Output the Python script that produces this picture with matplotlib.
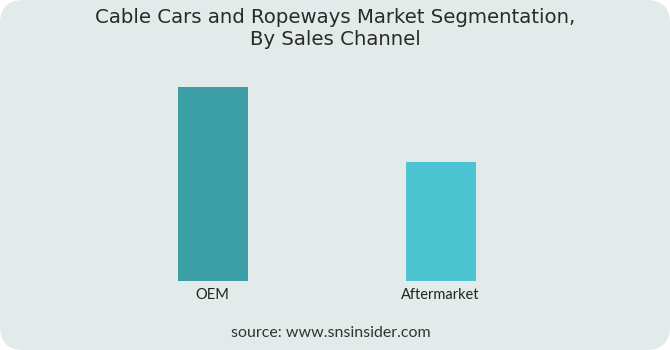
import matplotlib
matplotlib.use("Agg")
import matplotlib.pyplot as plt
from matplotlib.patches import FancyBboxPatch

categories = ["OEM", "Aftermarket"]
values = [62, 38]
colors = ["#3c9fa6", "#4cc4d2"]

W, H = 670, 350
fig = plt.figure(figsize=(W / 100, H / 100), dpi=100, facecolor="white")
plt.rcParams['font.family'] = ['Lato', 'DejaVu Sans']

bg = FancyBboxPatch((0, 0), 1, 1,
                    boxstyle="round,pad=0,rounding_size=0.035",
                    transform=fig.transFigure, facecolor="#e3ebea",
                    edgecolor="none", mutation_aspect=W / H, zorder=-5)
fig.patches.append(bg)

L, R = 100, 553
top_px, bot_px = 87, 281
ax = fig.add_axes([L / W, 1 - bot_px / H, (R - L) / W, (bot_px - top_px) / H])
ax.set_zorder(2)
ax.set_facecolor("none")
x = list(range(len(categories)))
ax.bar(x, values, width=70 / 228, color=colors)
ax.set_xlim(-112.5 / 228, (R - 212.5) / 228)
ax.set_ylim(0, max(values))
ax.set_xticks(x)
ax.set_xticklabels(categories, fontsize=10.5, color="#222222")
ax.tick_params(axis="x", length=0, pad=5)
ax.set_yticks([])
for s in ax.spines.values():
    s.set_visible(False)

fig.text(0.5, 1 - 28.5 / H, "Cable Cars and Ropeways Market Segmentation,\nBy Sales Channel",
         ha="center", va="center", fontsize=14.2, color="#2a2a2a", linespacing=1.17,
         family=["DejaVu Sans"])
fig.text(331 / W, 1 - 333 / H, "source: www.snsinsider.com", ha="center", va="center",
         fontsize=11.5, color="#333333")

fig.savefig("out.png", dpi=100, facecolor="white")
